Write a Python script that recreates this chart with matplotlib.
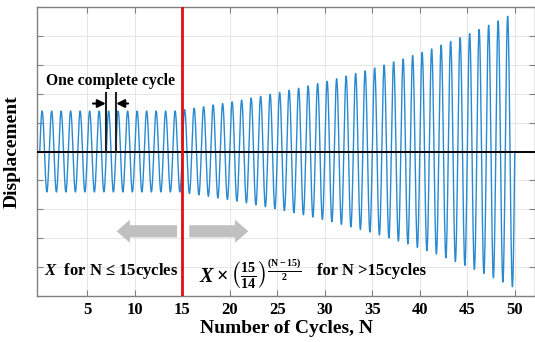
import numpy as np
import matplotlib
matplotlib.use("Agg")
import matplotlib.pyplot as plt
from matplotlib.patches import FancyArrow

# ---- data ----
n_const = 15                 # cycles with constant amplitude
amp_const = 1.4              # X
# peak amplitude of each cycle after N = 15 (cycles 16..50)
amp_growth = [1.45, 1.50, 1.55, 1.61, 1.66, 1.72, 1.78, 1.85, 1.91, 1.98,
              2.05, 2.12, 2.19, 2.27, 2.35, 2.43, 2.52, 2.61, 2.70, 2.79,
              2.89, 2.99, 3.10, 3.20, 3.32, 3.43, 3.55, 3.68, 3.81, 3.94,
              4.08, 4.22, 4.37, 4.52, 4.68]
amplitudes = [amp_const] * n_const + amp_growth
x_ticks = [5, 10, 15, 20, 25, 30, 35, 40, 45, 50]
y_ticks = [-5, -4, -3, -2, -1, 0, 1, 2, 3, 4, 5]
cycle_marks = [7, 8]
split_N = 15

plt.rcParams['font.family'] = ['Liberation Serif', 'DejaVu Serif']
plt.rcParams['mathtext.fontset'] = 'custom'
plt.rcParams['mathtext.rm'] = 'Liberation Serif:bold'
plt.rcParams['mathtext.bf'] = 'Liberation Serif:bold'
plt.rcParams['mathtext.it'] = 'Liberation Serif:bold:italic'

fig = plt.figure(figsize=(5.35, 3.42), dpi=100)
ax = fig.add_axes([0.0697, 0.1345, 0.9303, 0.845])

# waveform: one sine cycle per unit N with the cycle's amplitude
pts = 60
xs, ys = [], []
for k, a in enumerate(amplitudes):
    t = np.linspace(0, 1, pts)
    xs.append(k + t)
    ys.append(a * np.sin(2 * np.pi * t))
xs = np.concatenate(xs)
ys = np.concatenate(ys)
ax.plot(xs, ys, color='#2a8ad0', lw=1.0, zorder=3)

ax.axhline(0, color='black', lw=1.4, zorder=4)
ax.axvline(split_N, color='#e01010', lw=2.0, zorder=5)

# one complete cycle markers
for c in cycle_marks:
    ax.plot([c, c], [0, 2.03], color='#222222', lw=1.5, zorder=5)
ax.annotate('', xy=(cycle_marks[0] - 0.05, 1.66), xytext=(5.6, 1.66),
            arrowprops=dict(arrowstyle='-|>', color='black', lw=1.5,
                            mutation_scale=12, shrinkA=0, shrinkB=0))
ax.annotate('', xy=(cycle_marks[1] + 0.05, 1.66), xytext=(9.3, 1.66),
            arrowprops=dict(arrowstyle='-|>', color='black', lw=1.5,
                            mutation_scale=12, shrinkA=0, shrinkB=0))
ax.text(7.4, 2.45, 'One complete cycle', ha='center', va='center',
        fontsize=11.3, fontweight='bold')

# grey direction arrows
ax.add_patch(FancyArrow(14.45, -2.76, -6.36, 0, width=0.42, head_width=0.80,
                        head_length=1.4, length_includes_head=True,
                        color='#c0c0c0', lw=0, zorder=4))
ax.add_patch(FancyArrow(15.74, -2.76, 6.21, 0, width=0.42, head_width=0.80,
                        head_length=1.4, length_includes_head=True,
                        color='#c0c0c0', lw=0, zorder=4))

ax.text(7.5, -4.13, r'$X$  for N ≤ 15cycles', ha='center', va='center',
        fontsize=12, fontweight='bold')
ax.text(16.75, -4.25,
        r'$X\times\left(\frac{\mathbf{15}}{\mathbf{14}}\right)^{\frac{(\mathbf{N}-\mathbf{15})}{\mathbf{2}}}$',
        ha='left', va='center', fontsize=14.5)
ax.text(34.9, -4.13, 'for N >15cycles', ha='center', va='center',
        fontsize=12, fontweight='bold')

ax.set_xlim(-0.26, 52.13)
ax.set_ylim(-5, 5)
ax.set_xticks(x_ticks)
ax.set_yticks(y_ticks)
ax.set_yticklabels([])
ax.grid(True, color='#e6e6e6', lw=0.7)
ax.set_axisbelow(True)
for s in ax.spines.values():
    s.set_color('#808080')
    s.set_linewidth(1.0)
ax.tick_params(direction='in', length=4, color='#808080', top=True,
               right=True, labelsize=12, pad=4)
for lab in ax.get_xticklabels():
    lab.set_fontweight('bold')
ax.set_xlabel('Number of Cycles, N', fontsize=14, fontweight='bold', labelpad=2)
ax.set_ylabel('Displacement', fontsize=14, fontweight='bold', labelpad=8)

fig.savefig('out.png', dpi=100)
